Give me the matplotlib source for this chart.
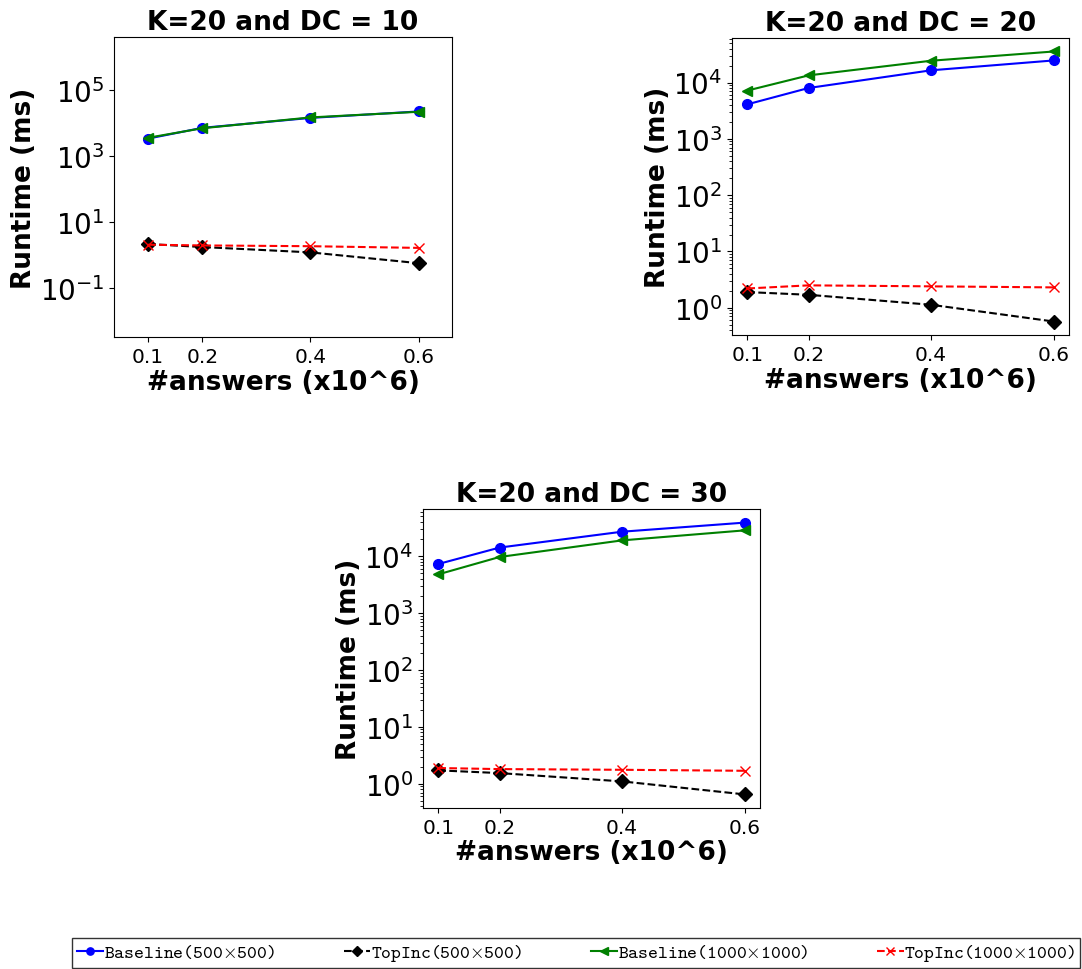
import numpy as np
import matplotlib
matplotlib.use("Agg")
import matplotlib.pyplot as plt
from matplotlib.font_manager import FontProperties

answers = [0.1, 0.2, 0.4, 0.6]
titles = ["K=20 and DC = 10", "K=20 and DC = 20", "K=20 and DC = 30"]

# runtimes (ms), one list per panel
base500 = [[3300, 7000, 14000, 22000],
           [4100, 8000, 16500, 24700],
           [7300, 14200, 27000, 39000]]
top500 = [[2.1, 1.7, 1.17, 0.55],
          [1.9, 1.7, 1.13, 0.57],
          [1.72, 1.54, 1.1, 0.65]]
base1000 = [[3500, 6800, 14500, 21500],
            [7200, 13400, 24400, 35600],
            [4800, 9700, 19000, 28500]]
top1000 = [[2.0, 1.9, 1.8, 1.6],
           [2.2, 2.5, 2.4, 2.3],
           [1.89, 1.81, 1.76, 1.69]]
labels = [r"Baseline(500$\times$500)", r"TopInc(500$\times$500)",
          r"Baseline(1000$\times$1000)", r"TopInc(1000$\times$1000)"]

fig = plt.figure(figsize=(10.82, 9.7), dpi=100)
positions = [[0.1054, 0.6515, 0.3124, 0.3093],
             [0.6765, 0.6536, 0.3115, 0.3062],
             [0.3909, 0.1660, 0.3115, 0.3082]]

for i, pos in enumerate(positions):
    ax = fig.add_axes(pos)
    l1, = ax.plot(answers, base500[i], "b-o", lw=1.5, ms=7)
    l2, = ax.plot(answers, top500[i], "k--D", lw=1.5, ms=7)
    l3, = ax.plot(answers, base1000[i], "g-<", lw=1.5, ms=7)
    l4, = ax.plot(answers, top1000[i], "r--x", lw=1.5, ms=7)
    ax.set_yscale("log")
    if i == 0:
        ax.set_ylim(10**-2.5, 10**6.6)
        ax.set_xlim(0.037, 0.662)
    ax.set_xticks(answers)
    ax.set_xticklabels(["0.1", "0.2", "0.4", "0.6"])
    ax.tick_params(axis="x", labelsize=14.5)
    ax.tick_params(axis="y", labelsize=20)
    ax.set_title(titles[i], fontsize=19, fontweight="bold")
    ax.set_xlabel("#answers (x10^6)", fontsize=19, fontweight="bold", labelpad=2)
    ax.set_ylabel("Runtime (ms)", fontsize=19, fontweight="bold", labelpad=2)

legfont = FontProperties(family="cmtt10", size=13.5, math_fontfamily="cm")
leg = fig.legend([l1, l2, l3, l4], labels, loc="lower left",
                 bbox_to_anchor=(0.0665, 0.001, 0.9316, 0.033), mode="expand",
                 ncol=4, borderaxespad=0, borderpad=0.25, fancybox=False,
                 handlelength=1.4, handletextpad=0.05, prop=legfont,
                 markerscale=0.75)
leg.get_frame().set_edgecolor("black")
leg.get_frame().set_linewidth(1.0)

fig.savefig("out.png", dpi=100)
